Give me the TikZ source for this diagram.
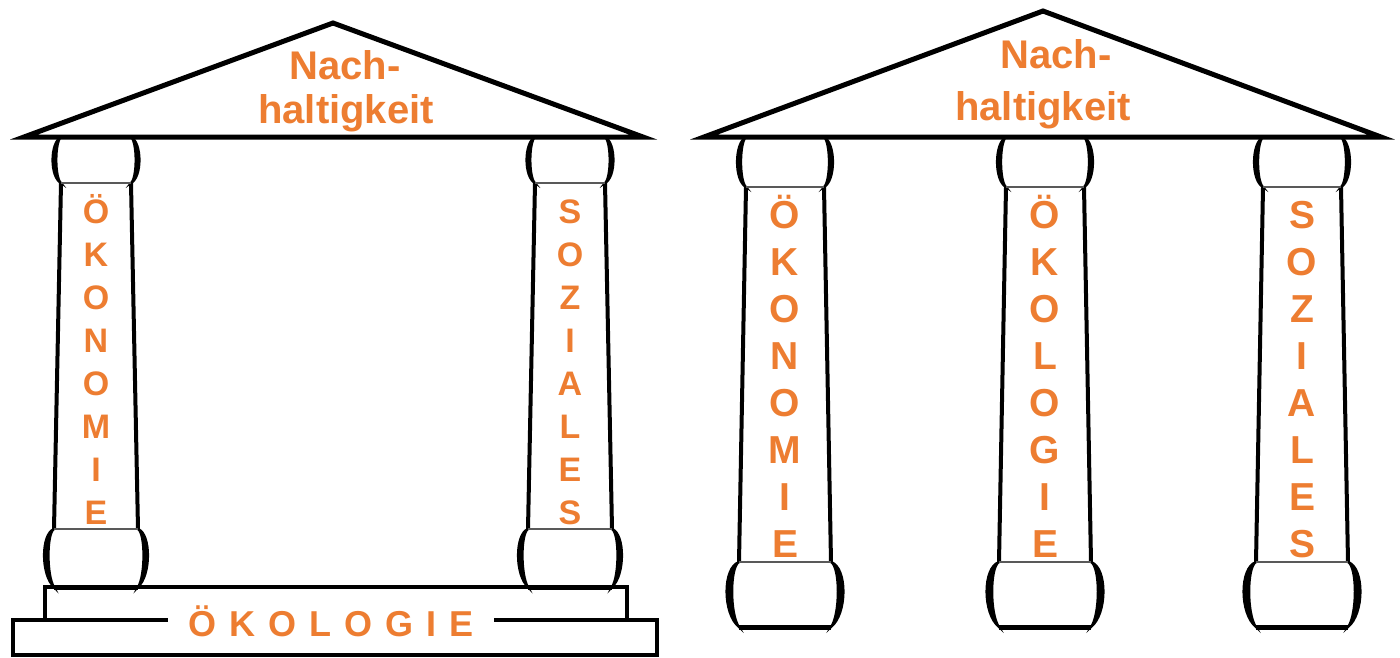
\documentclass[tikz,border=0pt]{standalone}
\usepackage{fontspec}
\setmainfont{Liberation Sans}
\definecolor{pillarorange}{RGB}{237,125,49}

\tikzset{
  roofline/.style={line width=5pt, line join=miter},
  shaft/.style={line width=4pt},
  seam/.style={line width=1.8pt, draw=black!65},
  bulge/.style={line width=2.2pt, fill=black},
  footing/.style={line width=5pt},
  stepline/.style={line width=4pt},
  lettering/.style={text=pillarorange, inner sep=0pt, anchor=base},
  roofword/.style={lettering, font=\bfseries\fontsize{40}{40}\selectfont},
  smallletter/.style={lettering, font=\bfseries\fontsize{34}{34}\selectfont},
  bigletter/.style={lettering, font=\bfseries\fontsize{39}{39}\selectfont},
  baseword/.style={lettering, font=\bfseries\fontsize{36}{36}\selectfont},
}

% one column: #1 centre x, #2 top of capital, #3 capital seam, #4 base seam,
% #5 foot, #6 half width at top, #7 half width at foot, #8 capital bulge, #9 base bulge
\newcommand\pillar[9]{%
  \begin{scope}[shift={(#1,0)}]
    \draw[shaft] (-#6,#3) -- (-#7,#4);
    \draw[shaft] (#6,#3) -- (#7,#4);
    \foreach \s in {-1,1}{%
      \filldraw[bulge] ({\s*#6},#2)
        .. controls ({\s*(#6+1.33*#8)},{#2+0.12*(#3-#2)}) and ({\s*(#6+1.33*#8)},{#3-0.12*(#3-#2)}) .. ({\s*#6},#3)
        .. controls ({\s*(#6+0.73*#8)},{#3-0.12*(#3-#2)}) and ({\s*(#6+0.73*#8)},{#2+0.12*(#3-#2)}) .. ({\s*#6},#2);
      \filldraw[bulge] ({\s*#7},#4)
        .. controls ({\s*(#7+1.33*#9)},{#4+0.08*(#5-#4)}) and ({\s*(#7+1.33*#9)},{#5-0.2*(#5-#4)}) .. ({\s*#7},#5)
        .. controls ({\s*(#7+0.73*#9)},{#5-0.2*(#5-#4)}) and ({\s*(#7+0.73*#9)},{#4+0.08*(#5-#4)}) .. ({\s*#7},#4);
    }
    \draw[seam] (-#6,#3) -- (#6,#3);
    \draw[seam] (-#7,#4) -- (#7,#4);
    \draw[footing] (-#7,#5) -- (#7,#5);
  \end{scope}%
}

\begin{document}
\begin{tikzpicture}[x=1pt, y=-1pt]
  \useasboundingbox[fill=white] (0,0) rectangle (1400,657);

  % ---------- temple with two columns on a stepped base ----------
  \pillar{96}{137}{183}{529}{587}{35}{42}{8.5}{10}
  \pillar{570}{137}{183}{529}{587}{35}{42}{8.5}{10}

  \draw[stepline] (45,620) -- (45,587) -- (627,587) -- (627,620);
  \draw[stepline] (13,620) rectangle (657,655);
  \node[baseword, fill=white, inner xsep=20pt, inner ysep=3pt] (eco) at (331,636)
    {Ö\kern13pt K\kern13pt O\kern13pt L\kern13pt O\kern13pt G\kern13pt I\kern13pt E};

  \draw[roofline, fill=white] (24,137) -- (333,23) -- (643,137) -- cycle;
  \node[roofword] (nachA) at (345,79) {Nach-};
  \node[roofword] (haltA) at (346,123) {haltigkeit};

  \foreach \c [count=\i from 0] in {Ö,K,O,N,O,M,I,E}
    \node[smallletter] (ecoA\i) at (96,{223+43*\i}) {\c};
  \foreach \c [count=\i from 0] in {S,O,Z,I,A,L,E,S}
    \node[smallletter] (socA\i) at (570,{223+43*\i}) {\c};

  % ---------- temple with three columns ----------
  \pillar{785}{137}{187}{562}{627}{39}{46}{9}{12.5}
  \pillar{1045}{137}{187}{562}{627}{39}{46}{9}{12.5}
  \pillar{1302}{137}{187}{562}{627}{39}{46}{9}{12.5}

  \draw[roofline, fill=white] (704,137) -- (1043,11) -- (1381,137) -- cycle;
  \node[roofword] (nachB) at (1056,68) {Nach-};
  \node[roofword] (haltB) at (1043,120) {haltigkeit};

  \foreach \c [count=\i from 0] in {Ö,K,O,N,O,M,I,E}
    \node[bigletter] (econB\i) at (785,{228+47*\i}) {\c};
  \foreach \c [count=\i from 0] in {Ö,K,O,L,O,G,I,E}
    \node[bigletter] (ecolB\i) at (1045,{228+47*\i}) {\c};
  \foreach \c [count=\i from 0] in {S,O,Z,I,A,L,E,S}
    \node[bigletter] (socB\i) at (1302,{228+47*\i}) {\c};
\end{tikzpicture}
\end{document}
